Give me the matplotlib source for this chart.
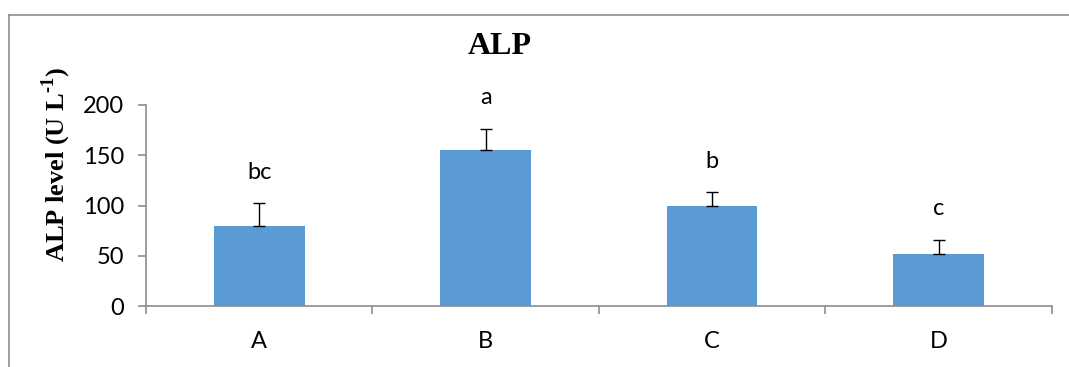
import matplotlib.pyplot as plt
from matplotlib.lines import Line2D

plt.rcParams['mathtext.fontset'] = 'custom'
plt.rcParams['mathtext.rm'] = 'Liberation Serif:bold'
plt.rcParams['mathtext.bf'] = 'Liberation Serif:bold'

groups = ['A', 'B', 'C', 'D']
alp = [80, 155, 100, 52]
alp_err = [22, 21, 13, 14]
letters = ['bc', 'a', 'b', 'c']

fig = plt.figure(figsize=(10.69, 3.67), dpi=100)
ax = fig.add_axes([0.1366, 0.1662, 0.8474, 0.5477])

x = range(len(groups))
ax.bar(x, alp, width=0.4, color='#5B9BD5', zorder=2)
ax.errorbar(x, alp, yerr=[[0] * len(alp), alp_err], fmt='none',
            ecolor='black', elinewidth=1, capsize=4.5, capthick=1, zorder=3)

for i, (m, e, s) in enumerate(zip(alp, alp_err, letters)):
    ax.text(i, m + e + 31, s, ha='center', va='center', fontsize=17,
            family='Lato')

ax.set_xlim(-0.5, 3.5)
ax.set_ylim(0, 200)
ax.set_yticks([0, 50, 100, 150, 200])
ax.set_xticks(list(x))
ax.set_xticklabels(groups)
ax.set_xticks([-0.5, 0.5, 1.5, 2.5, 3.5], minor=True)

for sp in ['top', 'right']:
    ax.spines[sp].set_visible(False)
for sp in ['left', 'bottom']:
    ax.spines[sp].set_color('#8c8c8c')
    ax.spines[sp].set_linewidth(1.2)

ax.tick_params(axis='x', which='major', length=0, pad=18, labelsize=17)
ax.tick_params(axis='x', which='minor', length=6, color='#8c8c8c', width=1.2,
               direction='out')
ax.tick_params(axis='y', length=6, color='#8c8c8c', width=1.2, pad=10,
               labelsize=17)
for lab in ax.get_xticklabels() + ax.get_yticklabels():
    lab.set_family('Lato')

ax.set_ylabel(r'ALP level (U L$^{\text{-1}}$)', fontsize=19,
              fontweight='bold', family='Liberation Serif')
ax.yaxis.set_label_coords(-0.081, 0.706)

fig.text(500 / 1069, 1 - 46 / 367, 'ALP', ha='center', va='center',
         fontsize=23, fontweight='bold', family='Liberation Serif')

# outer chart frame (top and left edges only visible)
fig.add_artist(Line2D([0.0084, 1.0], [0.959, 0.959], color='#8c8c8c',
                      lw=1.2, transform=fig.transFigure))
fig.add_artist(Line2D([0.0084, 0.0084], [0.0, 0.959], color='#8c8c8c',
                      lw=1.2, transform=fig.transFigure))

fig.savefig('out.png', dpi=100)
